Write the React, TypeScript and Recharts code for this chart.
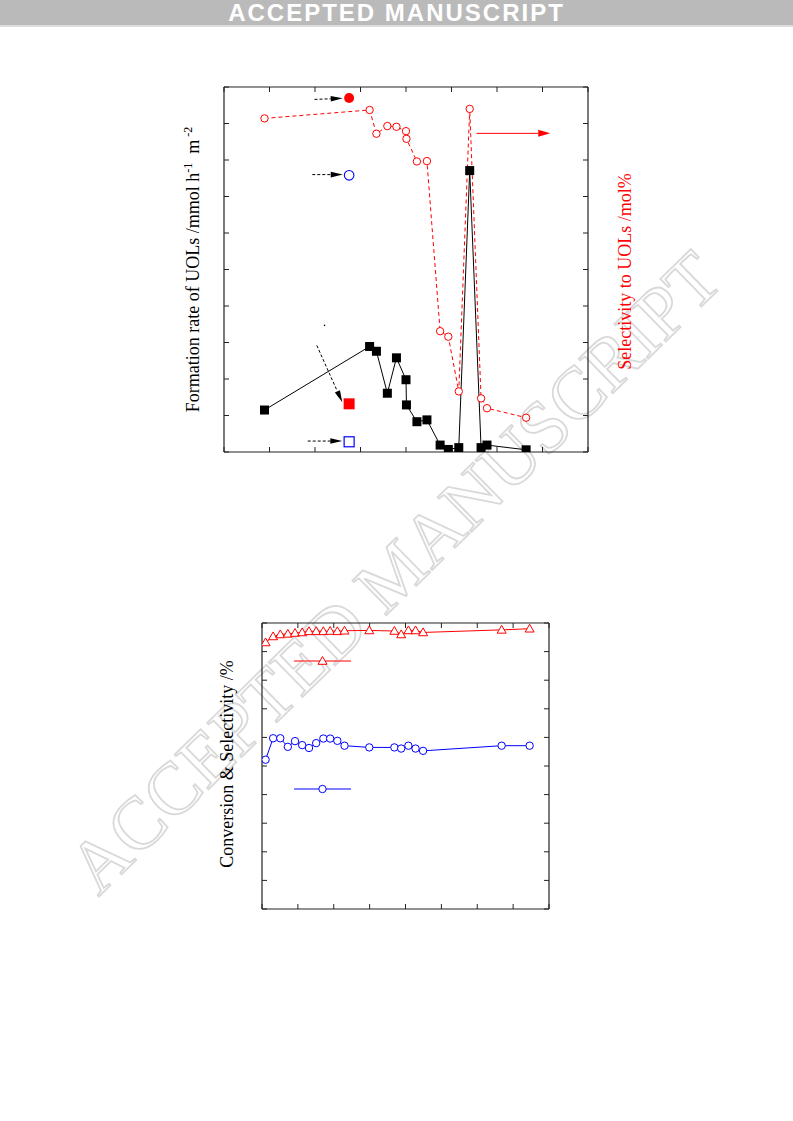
import React from 'react';
import {
  ComposedChart,
  Line,
  Scatter,
  XAxis,
  YAxis,
  ReferenceLine,
  ReferenceDot,
  Label,
  Legend,
} from 'recharts';

// ---- upper panel: formation rate (left axis) and selectivity (right axis)
const xValues = [0.89, 3.2, 3.35, 3.59, 3.79, 4.0, 4.01, 4.24, 4.46, 4.75, 4.93, 5.16, 5.4, 5.65, 5.78, 6.64];
const formationRate = [1.15, 2.89, 2.76, 1.61, 2.58, 1.98, 1.29, 0.83, 0.88, 0.19, 0.07, 0.12, 7.71, 0.12, 0.19, 0.06];
const selectivityUOL = [9.14, 9.37, 8.72, 8.93, 8.91, 8.79, 8.58, 7.96, 7.97, 3.31, 3.16, 1.66, 9.4, 1.47, 1.2, 0.94];

// single reference samples placed at the same x
const refMarkers = [
  { x: 2.75, y: 9.7, kind: 'redCircle' },
  { x: 2.75, y: 7.58, kind: 'blueCircle' },
  { x: 2.75, y: 1.32, kind: 'redSquare' },
  { x: 2.75, y: 0.28, kind: 'blueSquare' },
];

const dashedArrows = [
  [{ x: 1.99, y: 9.66 }, { x: 2.61, y: 9.69 }],
  [{ x: 1.94, y: 7.6 }, { x: 2.61, y: 7.6 }],
  [{ x: 2.04, y: 2.92 }, { x: 2.6, y: 1.36 }],
  [{ x: 1.84, y: 0.3 }, { x: 2.6, y: 0.3 }],
];
const axisArrow = [{ x: 5.55, y: 8.73 }, { x: 7.17, y: 8.73 }];

const xTicks1 = [0, 1, 2, 3, 4, 5, 6, 7, 8];
const yTicks1 = [0, 1, 2, 3, 4, 5, 6, 7, 8, 9, 10];

// ---- lower panel: conversion & selectivity
const timeValues = [0.1, 0.31, 0.51, 0.72, 0.92, 1.12, 1.31, 1.51, 1.71, 1.9, 2.1, 2.3, 2.99, 3.69, 3.88, 4.08, 4.28, 4.49, 6.68, 7.46];
const selectivity2 = [93.2, 95.3, 96.0, 96.2, 96.5, 96.7, 97.1, 97.1, 97.1, 97.2, 97.1, 97.3, 97.4, 97.2, 96.0, 97.4, 97.4, 96.7, 97.6, 98.0];
const conversion2 = [52.2, 59.7, 59.7, 56.7, 58.7, 57.3, 56.3, 58.0, 59.6, 59.6, 58.8, 57.1, 56.5, 56.5, 56.1, 57.1, 56.1, 55.3, 57.1, 57.1];

const xTicks2 = [0, 1, 2, 3, 4, 5, 6, 7, 8];
const yTicks2 = [0, 10, 20, 30, 40, 50, 60, 70, 80, 90, 100];

const rows1 = xValues.map((x, i) => ({ x, rate: formationRate[i], sel: selectivityUOL[i] }));
const rows2 = timeValues.map((x, i) => ({ x, sel: selectivity2[i], conv: conversion2[i] }));

const serif = "'Liberation Serif', 'Times New Roman', serif";
const RED = '#ff0000';
const BLUE = '#0000ff';
const AXIS = '#222';

const blackSquare = (p: any) => (
  <rect key={`sq-${p.index}`} x={p.cx - 4.5} y={p.cy - 4.5} width={9} height={9} fill="#000" />
);
const redOpenCircle = (p: any) => (
  <circle key={`rc-${p.index}`} cx={p.cx} cy={p.cy} r={3.7} fill="#fff" stroke={RED} strokeWidth={1} />
);
const triangleDot = (p: any) => (
  <polygon
    key={`tr-${p.index}`}
    points={`${p.cx},${p.cy - 4.5} ${p.cx - 4.5},${p.cy + 3.3} ${p.cx + 4.5},${p.cy + 3.3}`}
    fill="#fff"
    stroke={RED}
    strokeWidth={1}
  />
);
const blueOpenCircle = (p: any) => (
  <circle key={`bc-${p.index}`} cx={p.cx} cy={p.cy} r={3.7} fill="#fff" stroke={BLUE} strokeWidth={1} />
);

const markerShape = (p: any) => {
  const { cx, cy, payload } = p;
  switch (payload.kind) {
    case 'redCircle':
      return <circle cx={cx} cy={cy} r={5} fill={RED} />;
    case 'blueCircle':
      return <circle cx={cx} cy={cy} r={4.8} fill="#fff" stroke={BLUE} strokeWidth={1.1} />;
    case 'redSquare':
      return <rect x={cx - 5.5} y={cy - 5.5} width={11} height={11} fill={RED} />;
    default:
      return <rect x={cx - 5} y={cy - 5} width={10} height={10} fill="#fff" stroke={BLUE} strokeWidth={1.2} />;
  }
};

const arrowShape = (color: string, dashed: boolean, halfW: number) => (p: any) => {
  const { x1, y1, x2, y2 } = p;
  const a = Math.atan2(y2 - y1, x2 - x1);
  const len = 12;
  const bx = x2 - len * Math.cos(a);
  const by = y2 - len * Math.sin(a);
  const px = halfW * Math.sin(a);
  const py = halfW * Math.cos(a);
  return (
    <g>
      <line x1={x1} y1={y1} x2={bx} y2={by} stroke={color} strokeWidth={1} strokeDasharray={dashed ? '3 2' : undefined} />
      <polygon points={`${x2},${y2} ${bx - px},${by + py} ${bx + px},${by - py}`} fill={color} />
    </g>
  );
};

const rateLabel = (props: any) => {
  const vb = props.viewBox || {};
  const x = vb.x - 25;
  const y = vb.y + vb.height / 2;
  return (
    <text x={x} y={y} transform={`rotate(-90, ${x}, ${y})`} textAnchor="middle" fontFamily={serif} fontSize={18} fill="#000">
      Formation rate of UOLs /mmol h
      <tspan dy={-7} fontSize={12}>-1</tspan>
      <tspan dy={7}>{'\u00a0 m'}</tspan>
      <tspan dy={-7} fontSize={12}>{'\u00a0-2'}</tspan>
    </text>
  );
};

const selLabel = (props: any) => {
  const vb = props.viewBox || {};
  const x = vb.x + 44;
  const y = vb.y + vb.height / 2 + 2;
  return (
    <text x={x} y={y} transform={`rotate(-90, ${x}, ${y})`} textAnchor="middle" fontFamily={serif} fontSize={18} fill={RED}>
      Selectivity to UOLs /mol%
    </text>
  );
};

const convLabel = (props: any) => {
  const vb = props.viewBox || {};
  const x = vb.x - 29;
  const y = vb.y + vb.height / 2 - 2;
  return (
    <text x={x} y={y} transform={`rotate(-90, ${x}, ${y})`} textAnchor="middle" fontFamily={serif} fontSize={18} fill="#000">
      Conversion &amp; Selectivity /%
    </text>
  );
};

// legend keys only (their text is not printed in the source figure)
const legend2 = () => (
  <div style={{ position: 'relative', width: 60, height: 140 }}>
    <svg width={60} height={10} style={{ position: 'absolute', left: 0, top: 0 }}>
      <line x1={0} y1={5} x2={57} y2={5} stroke={RED} strokeWidth={1} />
      <polygon points="28.5,0.5 24,8.3 33,8.3" fill="#fff" stroke={RED} strokeWidth={1} />
    </svg>
    <svg width={60} height={10} style={{ position: 'absolute', left: 0, top: 128 }}>
      <line x1={0} y1={5} x2={57} y2={5} stroke={BLUE} strokeWidth={1} />
      <circle cx={28.5} cy={5} r={3.7} fill="#fff" stroke={BLUE} strokeWidth={1} />
    </svg>
  </div>
);

// no tick labels in the figure, only inward tick marks
const noTickLabel = () => <g />;

const boxAxisProps = {
  tick: noTickLabel,
  mirror: true,
  tickSize: 5,
  stroke: AXIS,
  axisLine: { stroke: AXIS, strokeWidth: 1.2 },
  tickLine: { stroke: AXIS, strokeWidth: 1 },
};

const UpperChart = () => (
  <ComposedChart width={500} height={400} data={rows1} margin={{ top: 17, right: 72, bottom: 18, left: 64 }}>
    <XAxis xAxisId="b" dataKey="x" type="number" domain={[0, 8]} ticks={xTicks1} height={1} orientation="bottom" allowDataOverflow {...boxAxisProps} />
    <XAxis xAxisId="t" dataKey="x" type="number" domain={[0, 8]} ticks={xTicks1} height={1} orientation="top" allowDataOverflow {...boxAxisProps} />
    <YAxis yAxisId="l" type="number" domain={[0, 10]} ticks={yTicks1} width={1} orientation="left" allowDataOverflow {...boxAxisProps}>
      <Label content={rateLabel} />
    </YAxis>
    <YAxis yAxisId="r" type="number" domain={[0, 10]} ticks={yTicks1} width={1} orientation="right" allowDataOverflow {...boxAxisProps}>
      <Label content={selLabel} />
    </YAxis>

    <Line
      xAxisId="b"
      yAxisId="r"
      dataKey="sel"
      stroke={RED}
      strokeWidth={1}
      strokeDasharray="4 3"
      dot={redOpenCircle}
      activeDot={false}
      isAnimationActive={false}
    />
    <Line
      xAxisId="b"
      yAxisId="l"
      dataKey="rate"
      stroke="#000"
      strokeWidth={1}
      dot={blackSquare}
      activeDot={false}
      isAnimationActive={false}
    />
    <Scatter xAxisId="b" yAxisId="l" data={refMarkers} dataKey="y" shape={markerShape} isAnimationActive={false} />

    {dashedArrows.map((seg, i) => (
      <ReferenceLine key={i} xAxisId="b" yAxisId="l" segment={seg} shape={arrowShape('#000', true, 2.8)} />
    ))}
    <ReferenceLine xAxisId="b" yAxisId="l" segment={axisArrow} shape={arrowShape(RED, false, 3.5)} />
    <ReferenceDot xAxisId="b" yAxisId="l" x={2.21} y={3.47} r={0.8} fill="#000" stroke="none" />
  </ComposedChart>
);

const LowerChart = () => (
  <ComposedChart width={400} height={330} data={rows2} margin={{ top: 23, right: 41, bottom: 21, left: 72 }}>
    <XAxis xAxisId="b" dataKey="x" type="number" domain={[0, 8]} ticks={xTicks2} height={1} orientation="bottom" allowDataOverflow {...boxAxisProps} />
    <XAxis xAxisId="t" dataKey="x" type="number" domain={[0, 8]} ticks={xTicks2} height={1} orientation="top" allowDataOverflow {...boxAxisProps} />
    <YAxis yAxisId="l" type="number" domain={[0, 100]} ticks={yTicks2} width={1} orientation="left" allowDataOverflow {...boxAxisProps}>
      <Label content={convLabel} />
    </YAxis>
    <YAxis yAxisId="r" type="number" domain={[0, 100]} ticks={yTicks2} width={1} orientation="right" allowDataOverflow {...boxAxisProps} />

    <Line
      xAxisId="b"
      yAxisId="l"
      dataKey="sel"
      name="Selectivity"
      stroke={RED}
      strokeWidth={1}
      dot={triangleDot}
      activeDot={false}
      isAnimationActive={false}
    />
    <Line
      xAxisId="b"
      yAxisId="l"
      dataKey="conv"
      name="Conversion"
      stroke={BLUE}
      strokeWidth={1}
      dot={blueOpenCircle}
      activeDot={false}
      isAnimationActive={false}
    />
    <Legend
      layout="horizontal"
      verticalAlign="middle"
      align="center"
      wrapperStyle={{ left: 104, top: 56, width: 60, height: 140 }}
      content={legend2}
    />
  </ComposedChart>
);

export default function App() {
  return (
    <div style={{ position: 'absolute', left: 0, top: 0, width: 793, height: 1121, overflow: 'hidden', background: '#fff' }}>
      <div
        style={{
          position: 'absolute',
          left: 0,
          top: 0,
          width: 793,
          height: 25,
          background: '#bababa',
          borderBottom: '2px solid #dedede',
        }}
      />
      <div
        style={{
          position: 'absolute',
          left: 0,
          top: 3,
          width: 793,
          height: 20,
          color: '#fff',
          fontFamily: "'Liberation Sans', Arial, sans-serif",
          fontWeight: 'bold',
          fontSize: 24,
          letterSpacing: 2,
          lineHeight: '20px',
          textAlign: 'center',
          whiteSpace: 'nowrap',
        }}
      >
        ACCEPTED MANUSCRIPT
      </div>

      <svg width={793} height={1121} style={{ position: 'absolute', left: 0, top: 0 }}>
        <text
          x={412}
          y={590}
          transform="rotate(-44.4, 412, 590)"
          textAnchor="middle"
          fontFamily={serif}
          fontSize={74}
          fill="none"
          stroke="#d9d9d9"
          strokeWidth={1.8}
        >
          ACCEPTED MANUSCRIPT
        </text>
      </svg>

      <div style={{ position: 'absolute', left: 160, top: 70 }}>
        <UpperChart />
      </div>
      <div style={{ position: 'absolute', left: 190, top: 600 }}>
        <LowerChart />
      </div>
    </div>
  );
}
